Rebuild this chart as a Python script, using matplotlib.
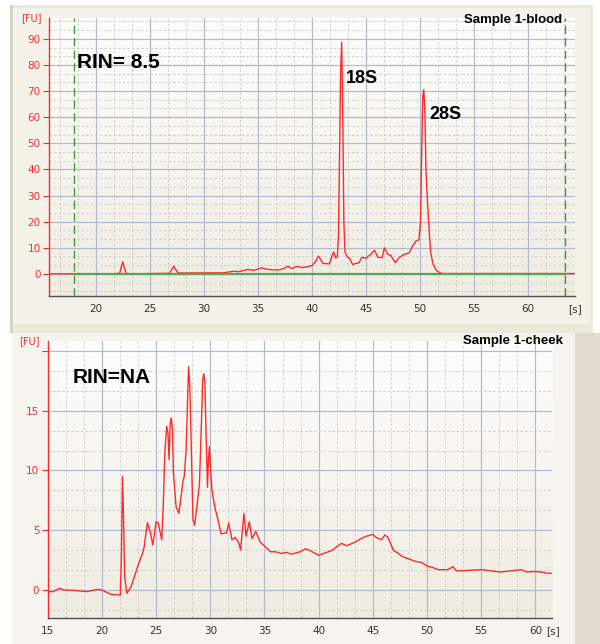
import numpy as np
import matplotlib
matplotlib.use("Agg")
import matplotlib.pyplot as plt
from matplotlib.ticker import MultipleLocator
from matplotlib.patches import Rectangle
from matplotlib.colors import LinearSegmentedColormap

# ---------------- data ----------------
blood_t = [15.65, 21.8, 22.2, 22.4, 22.5, 22.6, 22.8, 23.2, 26.8, 27.0, 27.2, 27.4, 27.6,
           28.0, 31.8, 32.3, 32.8, 33.2, 33.6, 34.1, 34.6, 35.0, 35.3, 35.9, 36.5, 37.0,
           37.5, 37.75, 38.1, 38.6, 39.1, 39.5, 40.0, 40.3, 40.6, 40.8, 41.0, 41.6, 42.0,
           42.2, 42.35, 42.45, 42.55, 42.65, 42.75, 42.85, 42.95, 43.05, 43.25, 43.5,
           43.75, 44.1, 44.35, 44.6, 45.0, 45.3, 45.8, 46.1, 46.5, 46.7, 47.0, 47.3, 47.7,
           48.1, 48.55, 49.0, 49.3, 49.6, 49.9, 50.05, 50.15, 50.25, 50.35, 50.45, 50.55,
           50.7, 50.85, 51.0, 51.2, 51.5, 51.8, 52.1, 64.35]
blood_fu = [0, 0, 0.3, 3.5, 4.6, 2.5, 0.2, 0, 0.2, 1.5, 2.9, 1.5, 0.4,
            0.3, 0.4, 0.7, 1.0, 0.8, 1.2, 1.7, 1.3, 1.8, 2.3, 1.7, 1.5, 1.5,
            2.2, 2.9, 2.0, 2.8, 2.4, 2.6, 3.2, 4.5, 6.8, 5.5, 4.0, 3.8, 8.4,
            6.0, 6.5, 15, 45, 78, 88.7, 60, 20, 8.5, 6.5, 5.9,
            3.6, 4.0, 4.2, 6.3, 6.0, 7.0, 9.0, 6.3, 6.2, 10.0, 7.5, 7.0, 4.3,
            6.3, 7.5, 8.0, 10.5, 12.5, 13.0, 20, 45, 68, 70.5, 62, 40,
            27, 16, 8, 3.8, 1.4, 0.5, 0.1, 0.1]

cheek_t = [15.0, 15.5, 16.1, 16.5, 17.7, 18.6, 19.6, 20.0, 20.8, 21.7, 21.8, 21.9, 22.0,
           22.1, 22.3, 22.7, 23.3, 23.75, 23.9, 24.2, 24.45, 24.7, 25.0, 25.2, 25.52,
           25.67, 25.8, 25.98, 26.1, 26.2, 26.3, 26.4, 26.5, 26.6, 26.84, 27.1, 27.3,
           27.5, 27.6, 27.77, 27.93, 28.0, 28.1, 28.2, 28.4, 28.55, 28.77, 29.0, 29.2,
           29.3, 29.4, 29.5, 29.65, 29.74, 29.83, 29.92, 30.0, 30.15, 30.4, 30.7, 31.0,
           31.5, 31.7, 32.0, 32.3, 32.6, 32.8, 33.1, 33.3, 33.6, 33.85, 34.2, 34.6, 35.1,
           35.55, 36.0, 36.6, 37.0, 37.5, 38.3, 38.8, 39.2, 40.0, 40.6, 41.2, 42.1,
           42.6, 43.35, 43.9, 44.4, 45.0, 45.3, 45.8, 46.1, 46.4, 46.9, 47.3, 47.7,
           48.3, 48.9, 49.5, 50.0, 50.5, 51.0, 51.9, 52.4, 52.7, 53.1, 54.0, 55.0,
           55.9, 56.8, 57.7, 58.7, 59.2, 59.9, 60.6, 61.1, 61.5]
cheek_fu = [-0.14, -0.14, 0.14, 0.0, -0.05, -0.14, 0.05, 0.0, -0.36, -0.42, 3.0, 9.5, 6.0,
            1.1, -0.28, 0.28, 1.96, 3.07, 3.6, 5.64, 4.9, 3.77, 5.7, 5.6, 4.2,
            7.25, 11.4, 13.7, 13.1, 10.9, 13.95, 14.4, 13.6, 9.8, 7.0, 6.4, 7.8,
            9.2, 9.5, 11.7, 16.7, 18.7, 17.3, 13.9, 5.9, 5.4, 7.0, 8.9, 14.5,
            17.6, 18.1, 17.3, 11.7, 8.6, 10.9, 12.0, 10.6, 8.4, 7.0, 5.9, 4.7,
            4.8, 5.6, 4.2, 4.4, 4.0, 3.35, 6.4, 4.5, 5.7, 4.3, 4.9, 4.0, 3.6,
            3.2, 3.2, 3.05, 3.15, 3.0, 3.2, 3.45, 3.3, 2.9, 3.1, 3.3, 3.9,
            3.7, 4.0, 4.3, 4.5, 4.65, 4.4, 4.2, 4.6, 4.4, 3.3, 3.1, 2.8,
            2.6, 2.4, 2.3, 2.0, 1.9, 1.7, 1.7, 1.95, 1.6, 1.6, 1.65, 1.7,
            1.6, 1.5, 1.6, 1.7, 1.5, 1.55, 1.5, 1.4, 1.4]

blood_marker_t = [18.0, 63.4]
blood_title = "Sample 1-blood"
cheek_title = "Sample 1-cheek"
blood_rin = "RIN= 8.5"
cheek_rin = "RIN=NA"

# ---------------- styling ----------------
W, H = 600, 644
RED = "#ff2a2a"
GRID_MAJ = "#b3bad2"
GRID_MIN = "#c9c9c4"
TXT = "#333333"
plt.rcParams["font.family"] = ["DejaVu Sans"]
BOLD = ["Liberation Sans", "DejaVu Sans"]

fig = plt.figure(figsize=(W / 100, H / 100), dpi=100, facecolor="white")


def rect_px(x0, y0, x1, y1, color, z=-10):
    fig.patches.append(Rectangle((x0 / W, 1 - y1 / H), (x1 - x0) / W, (y1 - y0) / H,
                                 transform=fig.transFigure, facecolor=color,
                                 edgecolor="none", zorder=z))


# panel backgrounds
rect_px(10, 5, 593, 333, "#ece9da")
rect_px(13, 8, 590, 324, "#f3f1e8")
rect_px(10, 5, 13, 333, "#d6d3c6")
rect_px(12, 333, 600, 644, "#f6f4ee")
rect_px(575, 333, 600, 644, "#e1dace")
rect_px(0, 333, 12, 644, "#ffffff")

grad = LinearSegmentedColormap.from_list("g", ["#fdfdfb", "#efece2"])


def style_axes(ax, xlim, ylim, xmaj, ymaj, xmin, ymin):
    ax.set_facecolor("none")
    ax.imshow(np.linspace(0, 1, 256)[:, None], extent=[0, 1, 0, 1], transform=ax.transAxes,
              aspect="auto", cmap=grad, zorder=0)
    ax.set_xlim(*xlim)
    ax.set_ylim(*ylim)
    ax.xaxis.set_major_locator(MultipleLocator(xmaj))
    ax.yaxis.set_major_locator(MultipleLocator(ymaj))
    ax.xaxis.set_minor_locator(MultipleLocator(xmin))
    ax.yaxis.set_minor_locator(MultipleLocator(ymin))
    ax.grid(which="major", color=GRID_MAJ, lw=0.9, ls="-", zorder=1)
    ax.grid(which="minor", color=GRID_MIN, lw=0.6, ls=(0, (3, 2.5)), zorder=1)
    ax.set_axisbelow(True)
    for s in ("top", "right"):
        ax.spines[s].set_visible(False)
    ax.spines["left"].set_color(RED)
    ax.spines["left"].set_linewidth(1.0)
    ax.spines["bottom"].set_color("#505050")
    ax.spines["bottom"].set_linewidth(1.0)
    ax.tick_params(axis="y", which="major", colors=RED, labelcolor=RED, length=4,
                   width=0.8, labelsize=7.5, pad=2)
    ax.tick_params(axis="x", which="major", length=0, labelcolor=TXT, labelsize=7.5, pad=6)
    ax.tick_params(which="minor", length=0)


# ---------------- top panel ----------------
ax1 = fig.add_axes([49 / W, 1 - 296 / H, 526 / W, 278 / H])
style_axes(ax1, (15.65, 64.35), (-8.5, 98), 5, 10, 5 / 3, 10 / 3)
ax1.set_xticks([20, 25, 30, 35, 40, 45, 50, 55, 60])
ax1.set_yticks(np.arange(0, 100, 10))
ax1.plot(blood_t, blood_fu, color=RED, lw=1.0, zorder=3)
ax1.plot(blood_marker_t, [0, 0], color="#56a556", lw=1.6, zorder=4)
for xm in blood_marker_t:
    ax1.axvline(xm, color="#3e9a3e", lw=1.0, ls=(0, (6, 3)), zorder=4)
ax1.text(18.25, 80.8, blood_rin, fontsize=15, fontweight="bold", family=BOLD,
         va="center", ha="left", color="black", zorder=5)
ax1.text(43.15, 75, "18S", fontsize=13, fontweight="bold", family=BOLD,
         va="center", ha="left", color="black", zorder=5)
ax1.text(50.85, 61.0, "28S", fontsize=13, fontweight="bold", family=BOLD,
         va="center", ha="left", color="black", zorder=5)
fig.text(562 / W, 1 - 20 / H, blood_title, fontsize=9.5, fontweight="bold", family=BOLD,
         ha="right", va="center", color="black")
fig.text(42 / W, 1 - 18 / H, "[FU]", fontsize=7, color=RED, ha="right", va="center")
fig.text(568 / W, 1 - 309 / H, "[s]", fontsize=7.5, color=TXT, ha="left", va="center")

# ---------------- bottom panel ----------------
ax2 = fig.add_axes([47.7 / W, 1 - 617.7 / H, 504 / W, 277 / H])
style_axes(ax2, (15, 61.5), (-2.32, 20.86), 5, 5, 5 / 3, 5 / 3)
ax2.set_xticks([15, 20, 25, 30, 35, 40, 45, 50, 55, 60])
ax2.set_yticks([0, 5, 10, 15, 20])
ax2.set_yticklabels(["0", "5", "10", "15", ""])
ax2.plot(cheek_t, cheek_fu, color=RED, lw=1.0, zorder=3)
ax2.text(17.3, 17.8, cheek_rin, fontsize=15, fontweight="bold", family=BOLD,
         va="center", ha="left", color="black", zorder=5)
fig.text(563 / W, 1 - 341 / H, cheek_title, fontsize=9.5, fontweight="bold", family=BOLD,
         ha="right", va="center", color="black")
fig.text(40 / W, 1 - 341 / H, "[FU]", fontsize=7, color=RED, ha="right", va="center")
fig.text(546 / W, 1 - 631 / H, "[s]", fontsize=7.5, color=TXT, ha="left", va="center")

fig.savefig("out.png", dpi=100, facecolor=fig.get_facecolor())
